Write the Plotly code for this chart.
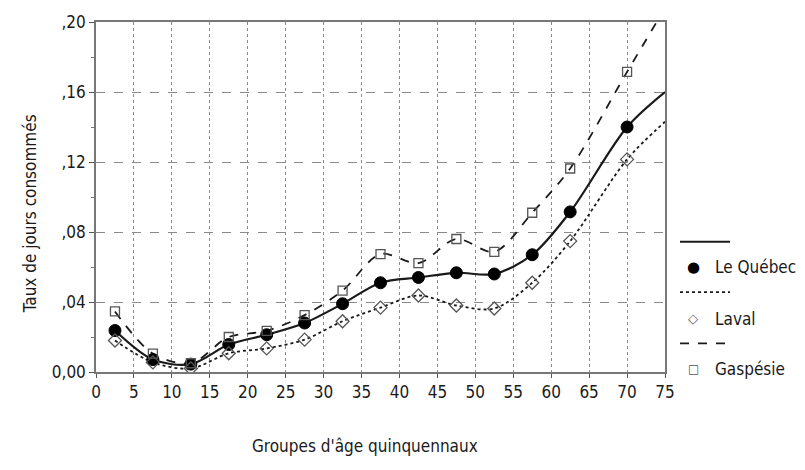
import plotly.graph_objects as go

# Five-year age groups (midpoints) and day-consumption rates
age_mid = [2.5, 7.5, 12.5, 17.5, 22.5, 27.5, 32.5, 37.5, 42.5, 47.5, 52.5, 57.5, 62.5, 70]
quebec = [0.0237, 0.0071, 0.0045, 0.0157, 0.0213, 0.028, 0.039, 0.051, 0.054, 0.0567, 0.056, 0.067, 0.0915, 0.140]
laval = [0.018, 0.0055, 0.002, 0.0107, 0.0135, 0.0185, 0.029, 0.0368, 0.0437, 0.038, 0.0363, 0.051, 0.0748, 0.1215]
gaspesie = [0.0346, 0.0105, 0.005, 0.0200, 0.0235, 0.0325, 0.0465, 0.0674, 0.0622, 0.076, 0.0687, 0.091, 0.1163, 0.1715]

# Fitted curves continue to the right edge of the axis
curve_end_x = 75
quebec_end = 0.160
laval_end = 0.143
gaspesie_end = 0.208

x_ticks = list(range(0, 80, 5))
y_tickvals = [0.0, 0.04, 0.08, 0.12, 0.16, 0.20]
y_ticktext = ["0,00", ",04", ",08", ",12", ",16", ",20"]

FONT = "DejaVu Sans Condensed, Liberation Sans Narrow, Arial Narrow, sans-serif"
INK = "#1a1a1a"

fig = go.Figure()

series = [
    ("Le Québec", quebec, quebec_end, "solid", 2.2,
     dict(symbol="circle", size=12, color="#000000", line=dict(color="#000000", width=1))),
    ("Laval", laval, laval_end, "dot", 1.8,
     dict(symbol="diamond-open", size=10, color="#555555", line=dict(width=1.3))),
    ("Gaspésie", gaspesie, gaspesie_end, "dash", 1.8,
     dict(symbol="square-open", size=9, color="#555555", line=dict(width=1.3))),
]

for name, ys, y_end, dash, width, marker in series:
    fig.add_trace(go.Scatter(
        x=age_mid + [curve_end_x], y=ys + [y_end],
        mode="lines", line=dict(color=INK, width=width, dash=dash, shape="spline", smoothing=0.9),
        showlegend=False, hoverinfo="skip", cliponaxis=True,
    ))
for name, ys, y_end, dash, width, marker in series:
    fig.add_trace(go.Scatter(
        x=age_mid, y=ys, mode="markers", marker=marker, name=name,
        showlegend=False, cliponaxis=True,
    ))

L, R, T, B = 96, 140, 17, 98
W, H = 805, 470
pw, ph = W - L - R, H - T - B


def px_x(px):
    return (px - L) / pw


def px_y(py):
    return 1 - (py - T) / ph


# Legend drawn beside the plot: line sample on one row, symbol and label below it
legend_rows = [
    ("solid", 2.0, 240, "●", 15, "Le Québec", 265),
    ("dot", 1.6, 291, "◇", 13, "Laval", 318),
    ("dash", 1.6, 343, "□", 12, "Gaspésie", 369),
]
for dash, lw, ly, glyph, gsize, label, ty in legend_rows:
    fig.add_shape(type="line", xref="paper", yref="paper",
                  x0=px_x(680), x1=px_x(730), y0=px_y(ly), y1=px_y(ly),
                  line=dict(color=INK, width=lw, dash=dash))
    fig.add_annotation(xref="paper", yref="paper", x=px_x(693), y=px_y(ty),
                       text=glyph, showarrow=False, xanchor="center", yanchor="middle",
                       font=dict(family="DejaVu Sans", size=gsize,
                                 color="#000000" if glyph == "●" else "#555555"))
    fig.add_annotation(xref="paper", yref="paper", x=px_x(713), y=px_y(ty),
                       text=label, showarrow=False, xanchor="left", yanchor="middle",
                       font=dict(family=FONT, size=17, color=INK))

# Axis titles
fig.add_annotation(xref="paper", yref="paper", x=px_x(365), y=px_y(447),
                   text="Groupes d'âge quinquennaux", showarrow=False,
                   xanchor="center", yanchor="middle",
                   font=dict(family=FONT, size=17, color=INK))
fig.add_annotation(xref="paper", yref="paper", x=px_x(30), y=px_y(212),
                   text="Taux de jours consommés", showarrow=False, textangle=-90,
                   xanchor="center", yanchor="middle",
                   font=dict(family=FONT, size=17, color=INK))

fig.update_xaxes(
    range=[0, 75], tickvals=x_ticks, ticks="outside", ticklen=4, tickcolor="#555555",
    showline=True, linecolor="#777777", linewidth=1.5, mirror=True,
    showgrid=True, gridcolor="#8a8a8a", gridwidth=1, griddash="dot",
    zeroline=False, tickfont=dict(family=FONT, size=17, color=INK),
)
fig.update_yaxes(
    range=[0, 0.20], tickvals=y_tickvals, ticktext=y_ticktext, ticks="outside",
    ticklen=5, tickcolor="#555555",
    minor=dict(dtick=0.02, ticks="outside", ticklen=3, tickcolor="#777777", showgrid=False),
    showline=True, linecolor="#777777", linewidth=1.5, mirror=True,
    showgrid=True, gridcolor="#8a8a8a", gridwidth=1, griddash="dash",
    zeroline=False, tickfont=dict(family=FONT, size=17, color=INK),
)

fig.update_layout(
    width=W, height=H, margin=dict(l=L, r=R, t=T, b=B),
    plot_bgcolor="white", paper_bgcolor="white", showlegend=False,
)

fig.write_html("out.html")
